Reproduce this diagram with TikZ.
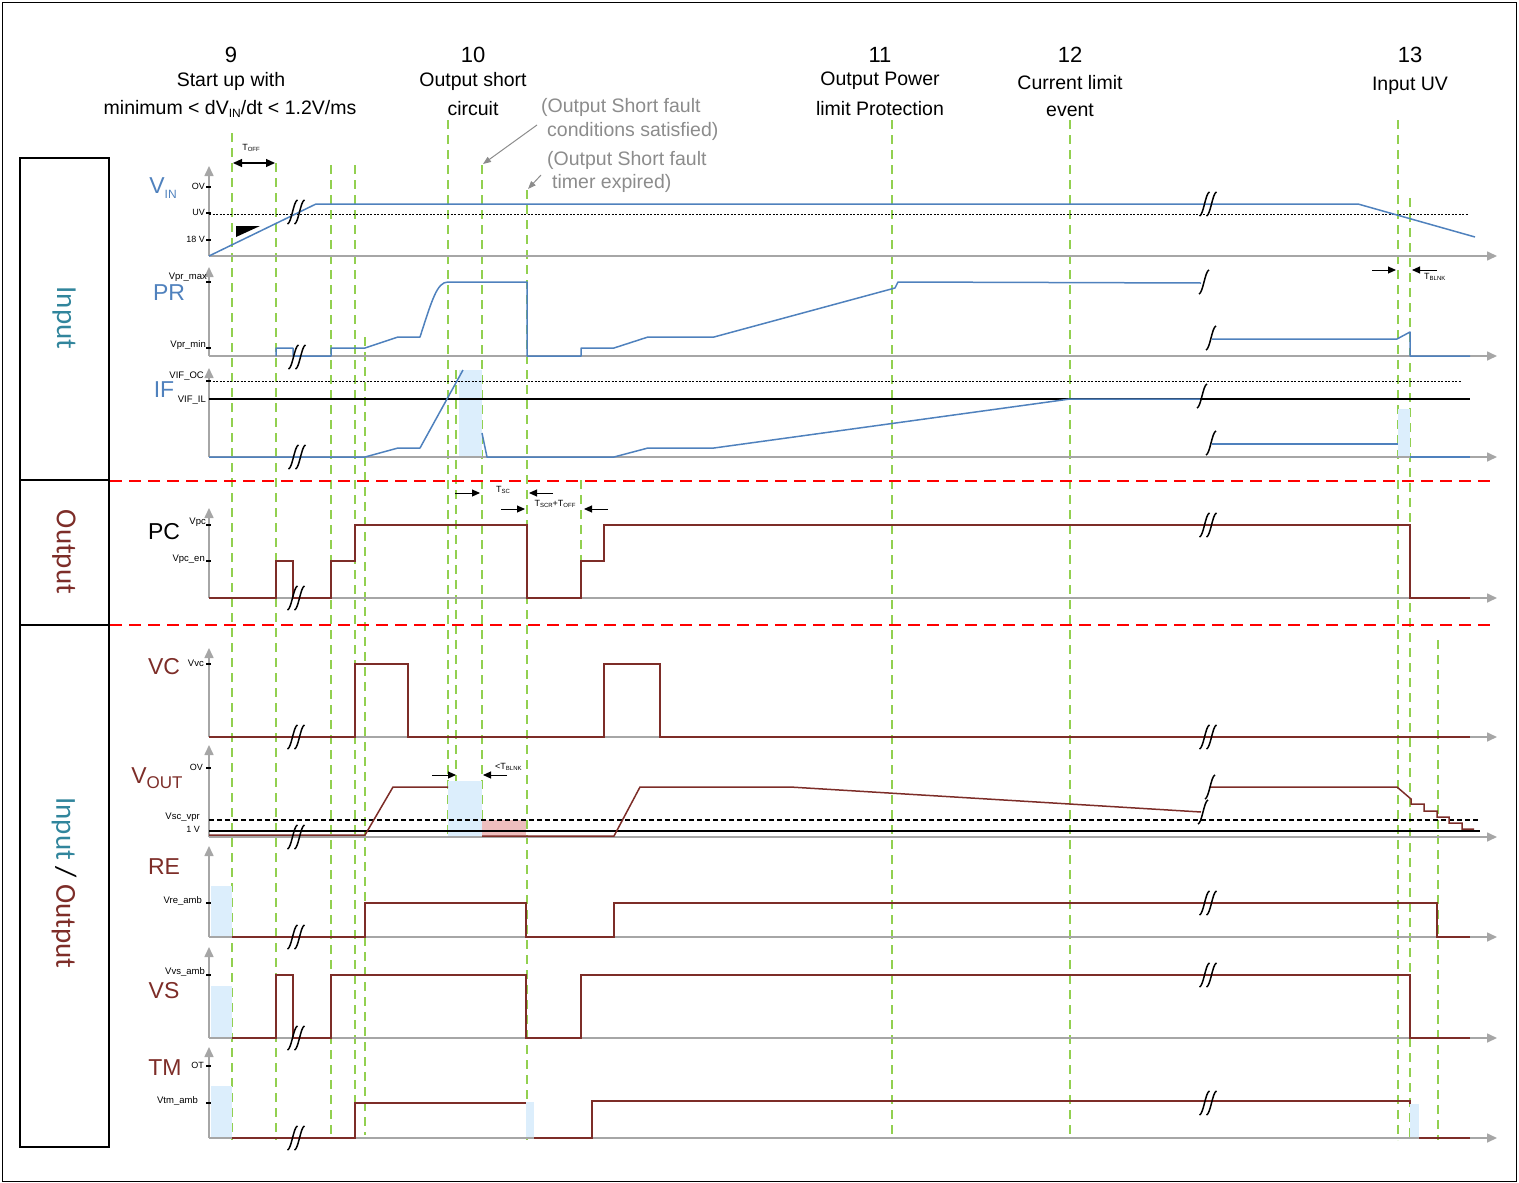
\documentclass[tikz,border=0pt]{standalone}
\usepackage{fontspec}
\setmainfont{Liberation Sans}
\newfontfamily\calib{Carlito}
\usetikzlibrary{arrows.meta}
\definecolor{sigblue}{RGB}{79,129,189}
\definecolor{sigbrown}{RGB}{125,45,40}
\definecolor{tealtxt}{RGB}{49,133,156}
\definecolor{axgray}{RGB}{166,166,166}
\definecolor{guidegreen}{RGB}{146,208,80}
\definecolor{annogray}{RGB}{140,140,140}
\definecolor{shadeblue}{RGB}{220,238,252}
\definecolor{shadered}{RGB}{238,190,190}
\newcommand{\lsub}[3]{\raisebox{-#1}{\fontsize{#2}{#2}\selectfont #3}}
\begin{document}
\begin{tikzpicture}[x=1pt,y=-1pt,
  every node/.style={inner sep=0pt},
  hdr/.style={font=\fontsize{19.5}{22}\selectfont},
  num/.style={font=\fontsize{22}{24}\selectfont},
  anno/.style={font=\fontsize{19.5}{22}\selectfont, text=annogray, anchor=west},
  ticklbl/.style={font=\fontsize{9.5}{10}\selectfont, anchor=east},
  signame/.style={font=\fontsize{23}{24}\selectfont},
  smalllbl/.style={font=\fontsize{9}{10}\selectfont},
  sidelbl/.style={rotate=-90, font=\calib\fontsize{29}{30}\selectfont},
  axis/.style={draw=axgray, line width=1.6pt, -{Triangle[length=10pt,width=9pt]}},
  guide/.style={draw=guidegreen, line width=1.4pt, dash pattern=on 9pt off 6pt},
  reddash/.style={draw=red, line width=2.5pt, dash pattern=on 12pt off 7pt},
  bluesig/.style={draw=sigblue, line width=1.5pt, line join=round},
  brownsig/.style={draw=sigbrown, line width=1.5pt, line join=miter},
  tickmark/.style={draw=black, line width=1.2pt},
  dimarrow/.style={draw=black, line width=1pt, -{Triangle[length=8pt,width=7pt]}},
  annoarrow/.style={draw=annogray, line width=1pt, -{Triangle[length=8pt,width=6pt]}},
  shadeb/.style={fill=shadeblue, draw=none},
  shader/.style={fill=shadered, draw=none},
  brkone/.pic={\draw[black, line width=1.5pt] (-5,12) .. controls (-1,11) and (1,-11) .. (5,-12);},
  brktwo/.pic={\draw[black, line width=1.5pt] (-8.5,12) .. controls (-4.5,11) and (-2.5,-11) .. (1.5,-12);
                \draw[black, line width=1.5pt] (-1.5,12) .. controls (2.5,11) and (4.5,-11) .. (8.5,-12);}
]
\useasboundingbox (0,0) rectangle (1519,1183);
\draw[black, line width=1pt] (2.5,2.5) rectangle (1516.5,1181);

% side frames
\draw[black, line width=1.5pt] (20,158) rectangle (109,480);
\draw[black, line width=1.5pt] (20,480) rectangle (109,625);
\draw[black, line width=1.5pt] (20,625) rectangle (109,1147);
\node[sidelbl, text=tealtxt] (sideIn) at (64,318) {Input};
\node[sidelbl, text=sigbrown] (sideOut) at (64,552) {Output};
\node[sidelbl] (sideIO) at (64,883) {\textcolor{tealtxt}{Input} / \textcolor{sigbrown}{Output}};

% headers
\node[num] (h9) at (231,55) {9};
\node[hdr] (h9a) at (231,81) {Start up with};
\node[hdr] (h9b) at (230,109) {minimum < dV\lsub{3pt}{12}{IN}/dt < 1.2V/ms};
\node[num] (h10) at (473,55) {10};
\node[hdr] (h10a) at (473,81) {Output short};
\node[hdr] (h10b) at (473,109) {circuit};
\node[num] (h11) at (880,55) {11};
\node[hdr] (h11a) at (880,81) {Output Power};
\node[hdr] (h11b) at (880,109) {limit Protection};
\node[num] (h12) at (1070,55) {12};
\node[hdr] (h12a) at (1070,83) {Current limit};
\node[hdr] (h12b) at (1070,110) {event};
\node[num] (h13) at (1410,55) {13};
\node[hdr] (h13a) at (1410,86) {Input UV};

% annotations
\node[anno] (an1) at (541,107) {(Output Short fault};
\node[anno] (an2) at (547,131) {conditions satisfied)};
\node[anno] (an3) at (547,160) {(Output Short fault};
\node[anno] (an4) at (552,183) {timer expired)};
\coordinate (an2tail) at (537,125);
\coordinate (an2tip) at (483,164);
\coordinate (an4tail) at (541,175);
\coordinate (an4tip) at (528,189);
\draw[annoarrow] (an2tail) -- (an2tip);
\draw[annoarrow] (an4tail) -- (an4tip);

% green guides
\draw[guide] (232,133) -- (232,1140);
\draw[guide] (276,163) -- (276,1140);
\draw[guide] (331,165) -- (331,1138);
\draw[guide] (355,165) -- (355,1138);
\draw[guide] (365,337) -- (365,1135);
\draw[guide] (448,120) -- (448,838);
\draw[guide] (456,370) -- (456,838);
\draw[guide] (482,165) -- (482,838);
\draw[guide] (527,190) -- (527,1140);
\draw[guide] (581,480) -- (581,560);
\draw[guide] (892,120) -- (892,1136);
\draw[guide] (1070,120) -- (1070,1136);
\draw[guide] (1398,120) -- (1398,1140);
\draw[guide] (1410,198) -- (1410,1140);
\draw[guide] (1438,640) -- (1438,1140);

% red separators
\draw[reddash] (110,481) -- (1490,481);
\draw[reddash] (110,625) -- (1490,625);

% ---------- VIN ----------
\node[signame, text=sigblue] (nVIN) at (163,188) {V\lsub{5pt}{12}{IN}};
\draw[axis] (209,256) -- (209,166);
\draw[axis] (209,256) -- (1497,256);
\draw[black, line width=0.8pt, dash pattern=on 2pt off 1.5pt] (209,214) -- (1468,214);
\draw[bluesig] (209,256) -- (316,204) -- (1358,204) -- (1475,237);
\fill[black] (236,226) -- (260,226) -- (236,237) -- cycle;
\foreach \yy in {187,213,240} \draw[tickmark] (206,\yy) -- (211,\yy);
\node[ticklbl, font=\fontsize{9}{10}\selectfont] (tOV1) at (205,186) {OV};
\node[ticklbl, font=\fontsize{9}{10}\selectfont] (tUV) at (205,212) {UV};
\node[ticklbl, font=\fontsize{9}{10}\selectfont] (t18) at (205,239) {18 V};
\draw[black, line width=1.2pt, {Triangle[length=9pt,width=8pt]}-{Triangle[length=9pt,width=8pt]}] (233,163) -- (275,163);
\node[smalllbl] (lTOFF) at (251,148) {T\lsub{1pt}{6}{OFF}};
\pic at (296,212) {brktwo};
\pic at (1208,204) {brktwo};

% ---------- PR ----------
\node[signame, text=sigblue] (nPR) at (169,293) {PR};
\draw[axis] (209,356) -- (209,267);
\draw[axis] (209,356) -- (1497,356);
\draw[bluesig] (276,356) -- (276,348) -- (293,348) -- (293,356) -- (331,356) -- (331,348) -- (365,348) -- (398,337) -- (420,337)
  .. controls (432,300) and (437,282) .. (448,282) -- (527,282) -- (527,356) -- (581,356) -- (581,348) -- (614,348) -- (648,337)
  -- (714,337) -- (895,288) -- (898,282) -- (1201,283);
\draw[bluesig] (1212,339) -- (1397,339) -- (1410,332) -- (1410,356) -- (1470,356);
\foreach \yy in {282,348} \draw[tickmark] (206,\yy) -- (211,\yy);
\node[ticklbl] (tPRmax) at (207,277) {Vpr\_max};
\node[ticklbl] (tPRmin) at (206,345) {Vpr\_min};
\pic at (297,357) {brktwo};
\pic at (1204,282) {brkone};
\pic at (1211,338) {brkone};
\draw[dimarrow] (1372,270) -- (1396,270);
\draw[dimarrow] (1437,270) -- (1412,270);
\node[smalllbl, anchor=west] (lTBLNK2) at (1424,277) {T\lsub{1pt}{6}{BLNK}};

% ---------- IF ----------
\node[signame, text=sigblue] (nIF) at (164,390) {IF};
\fill[shadeb] (459,370) rectangle (482,457);
\fill[shadeb] (1398,409) rectangle (1410,457);
\draw[axis] (209,457) -- (209,368);
\draw[axis] (209,457) -- (1497,457);
\draw[black, line width=0.8pt, dash pattern=on 2pt off 1.5pt] (209,381) -- (1462,381);
\draw[black, line width=1.4pt] (209,399) -- (1470,399);
\draw[bluesig] (209,457) -- (365,457) -- (398,448) -- (420,448) -- (463,370);
\draw[bluesig] (482,433) -- (487,457) -- (614,457) -- (648,448) -- (714,448) -- (1070,399) -- (1200,399);
\draw[bluesig] (1212,444) -- (1398,444);
\draw[bluesig] (1410,457) -- (1470,457);
\draw[tickmark] (206,381) -- (211,381);
\node[ticklbl] (tOC) at (204,376) {VIF\_OC};
\node[ticklbl] (tIL) at (206,400) {VIF\_IL};
\pic at (297,457) {brktwo};
\pic at (1202,396) {brkone};
\pic at (1211,443) {brkone};

% ---------- PC ----------
\node[signame] (nPC) at (164,532) {PC};
\draw[axis] (209,598) -- (209,508);
\draw[axis] (209,598) -- (1497,598);
\draw[brownsig] (209,598) -- (276,598) -- (276,561) -- (293,561) -- (293,598) -- (331,598) -- (331,561) -- (355,561) -- (355,525)
  -- (527,525) -- (527,598) -- (581,598) -- (581,561) -- (604,561) -- (604,525) -- (1410,525) -- (1410,598) -- (1470,598);
\foreach \yy in {525,561} \draw[tickmark] (206,\yy) -- (211,\yy);
\node[ticklbl] (tVpc) at (206,522) {Vpc};
\node[ticklbl] (tVpcen) at (205,559) {Vpc\_en};
\pic at (296,598) {brktwo};
\pic at (1208,525) {brktwo};
\draw[dimarrow] (455,493) -- (480,493);
\draw[dimarrow] (553,493) -- (529,493);
\node[smalllbl] (lTSC) at (503,490) {T\lsub{1pt}{6}{SC}};
\draw[dimarrow] (501,509) -- (525,509);
\draw[dimarrow] (608,509) -- (584,509);
\node[smalllbl] (lTSCR) at (555,504) {T\lsub{1pt}{6}{SCR}+T\lsub{1pt}{6}{OFF}};

% ---------- VC ----------
\node[signame, text=sigbrown] (nVC) at (164,667) {VC};
\draw[axis] (209,737) -- (209,648);
\draw[axis] (209,737) -- (1497,737);
\draw[brownsig] (209,737) -- (355,737) -- (355,664) -- (408,664) -- (408,737) -- (604,737) -- (604,664) -- (660,664) -- (660,737) -- (1470,737);
\draw[tickmark] (206,664) -- (211,664);
\node[ticklbl] (tVvc) at (204,663) {Vvc};
\pic at (296,737) {brktwo};
\pic at (1208,737) {brktwo};

% ---------- VOUT ----------
\node[signame, text=sigbrown] (nVOUT) at (157,778) {V\lsub{5pt}{17}{OUT}};
\fill[shadeb] (448,781) rectangle (482,837);
\fill[shader] (482,820) rectangle (526,837);
\draw[axis] (209,837) -- (209,745);
\draw[axis] (209,837) -- (1497,837);
\draw[black, line width=1.2pt, dash pattern=on 5pt off 3pt] (209,820) -- (1480,820);
\draw[black, line width=1.4pt] (209,831) -- (1480,831);
\draw[brownsig] (209,835) -- (365,835) -- (393,787) -- (448,787);
\draw[brownsig] (482,836) -- (614,836) -- (640,787) -- (790,787) -- (1201,812);
\draw[brownsig] (1210,787) -- (1397,787) -- (1411,799) -- (1411,804) -- (1424,804) -- (1424,811) -- (1437,811) -- (1437,817)
  -- (1449,817) -- (1449,823) -- (1462,823) -- (1462,829) -- (1474,829);
\draw[tickmark] (206,768) -- (211,768);
\node[ticklbl, font=\fontsize{9}{10}\selectfont] (tOV2) at (203,767) {OV};
\node[ticklbl] (tVsc) at (200,817) {Vsc\_vpr};
\node[ticklbl, font=\fontsize{9}{10}\selectfont] (t1V) at (200,829) {1 V};
\pic at (296,837) {brktwo};
\pic at (1203,812) {brkone};
\pic at (1210,787) {brkone};
\draw[dimarrow] (432,775) -- (456,775);
\draw[dimarrow] (507,775) -- (483,775);
\node[smalllbl, anchor=west] (lTBLNK1) at (495,767) {<T\lsub{1pt}{6}{BLNK}};

% ---------- RE ----------
\node[signame, text=sigbrown] (nRE) at (164,867) {RE};
\fill[shadeb] (211,886) rectangle (232,937);
\draw[axis] (209,937) -- (209,846);
\draw[axis] (209,937) -- (1497,937);
\draw[brownsig] (232,937) -- (365,937) -- (365,903) -- (526,903) -- (526,937) -- (614,937) -- (614,903) -- (1437,903) -- (1437,937) -- (1470,937);
\draw[tickmark] (206,903) -- (211,903);
\node[ticklbl] (tVre) at (202,901) {Vre\_amb};
\pic at (296,937) {brktwo};
\pic at (1208,903) {brktwo};

% ---------- VS ----------
\node[signame, text=sigbrown] (nVS) at (164,991) {VS};
\fill[shadeb] (211,986) rectangle (232,1038);
\draw[axis] (209,1038) -- (209,947);
\draw[axis] (209,1038) -- (1497,1038);
\draw[brownsig] (232,1038) -- (276,1038) -- (276,975) -- (293,975) -- (293,1038) -- (331,1038) -- (331,975) -- (526,975) -- (526,1038)
  -- (581,1038) -- (581,975) -- (1410,975) -- (1410,1038) -- (1470,1038);
\draw[tickmark] (206,975) -- (211,975);
\node[ticklbl] (tVvs) at (205,972) {Vvs\_amb};
\pic at (296,1038) {brktwo};
\pic at (1208,975) {brktwo};

% ---------- TM ----------
\node[signame, text=sigbrown] (nTM) at (165,1068) {TM};
\fill[shadeb] (211,1086) rectangle (232,1138);
\fill[shadeb] (526,1102) rectangle (534,1138);
\fill[shadeb] (1410,1104) rectangle (1419,1138);
\draw[axis] (209,1138) -- (209,1047);
\draw[axis] (209,1138) -- (1497,1138);
\draw[brownsig] (232,1138) -- (355,1138) -- (355,1103) -- (526,1103);
\draw[brownsig] (534,1138) -- (592,1138) -- (592,1101) -- (1410,1101) -- (1410,1104);
\draw[brownsig] (1419,1138) -- (1470,1138);
\foreach \yy in {1066,1103} \draw[tickmark] (206,\yy) -- (211,\yy);
\node[ticklbl, font=\fontsize{9}{10}\selectfont] (tOT) at (204,1065) {OT};
\node[ticklbl] (tVtm) at (198,1101) {Vtm\_amb};
\pic at (296,1138) {brktwo};
\pic at (1208,1103) {brktwo};
\end{tikzpicture}
\end{document}
